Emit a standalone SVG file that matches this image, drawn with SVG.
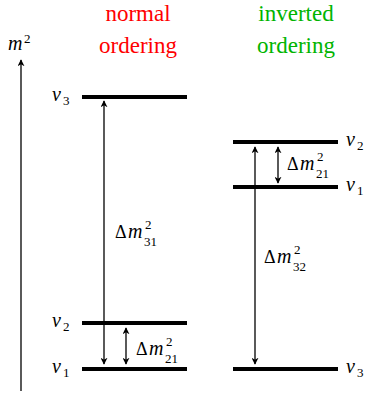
<svg xmlns="http://www.w3.org/2000/svg" width="366" height="394" viewBox="0 0 366 394">
<defs>
<marker id="ah" viewBox="0 0 10 10" refX="9" refY="5" markerWidth="7" markerHeight="7" markerUnits="userSpaceOnUse" orient="auto-start-reverse">
<path d="M0,0 L10,5 L0,10 L3,5 Z" fill="#000"/>
</marker>
</defs>
<g font-family="'Liberation Serif'">
<g id="axis">
<line stroke="#000" stroke-width="1.3" x1="21" y1="391" x2="21" y2="60" marker-end="url(#ah)"/>
<text font-family="'Liberation Serif'" font-size="20" font-style="italic" x="8" y="50">m</text><text font-family="'Liberation Serif'" font-size="13" x="24" y="43">2</text>
</g>
<g id="titles" font-size="23" text-anchor="middle">
<text font-family="'Liberation Serif'" fill="#ff0000" x="138" y="21">normal</text>
<text font-family="'Liberation Serif'" fill="#ff0000" x="138" y="53">ordering</text>
<text font-family="'Liberation Serif'" fill="#00b400" x="296" y="21">inverted</text>
<text font-family="'Liberation Serif'" fill="#00b400" x="296" y="53">ordering</text>
</g>
<g id="normal-nu3"><line stroke="#000" stroke-width="4" x1="82" y1="97" x2="187" y2="97"/><text font-family="'Liberation Serif'" font-size="20" font-style="italic" x="52" y="101">ν</text><text font-family="'Liberation Serif'" font-size="13" x="63" y="105">3</text></g>
<g id="normal-nu2"><line stroke="#000" stroke-width="4" x1="82" y1="323" x2="187" y2="323"/><text font-family="'Liberation Serif'" font-size="20" font-style="italic" x="52" y="327">ν</text><text font-family="'Liberation Serif'" font-size="13" x="63" y="331">2</text></g>
<g id="normal-nu1"><line stroke="#000" stroke-width="4" x1="82" y1="369" x2="187" y2="369"/><text font-family="'Liberation Serif'" font-size="20" font-style="italic" x="52" y="373">ν</text><text font-family="'Liberation Serif'" font-size="13" x="63" y="377">1</text></g>
<g id="inv-nu2"><line stroke="#000" stroke-width="4" x1="233" y1="142" x2="338" y2="142"/><text font-family="'Liberation Serif'" font-size="20" font-style="italic" x="346" y="146">ν</text><text font-family="'Liberation Serif'" font-size="13" x="357" y="150">2</text></g>
<g id="inv-nu1"><line stroke="#000" stroke-width="4" x1="233" y1="187" x2="338" y2="187"/><text font-family="'Liberation Serif'" font-size="20" font-style="italic" x="346" y="191">ν</text><text font-family="'Liberation Serif'" font-size="13" x="357" y="195">1</text></g>
<g id="inv-nu3"><line stroke="#000" stroke-width="4" x1="233" y1="369" x2="338" y2="369"/><text font-family="'Liberation Serif'" font-size="20" font-style="italic" x="346" y="373">ν</text><text font-family="'Liberation Serif'" font-size="13" x="357" y="377">3</text></g>
<g id="connectors" stroke="#000" stroke-width="1.3">
<line x1="104" y1="101" x2="104" y2="364" marker-start="url(#ah)" marker-end="url(#ah)"/>
<line x1="126" y1="328" x2="126" y2="364" marker-start="url(#ah)" marker-end="url(#ah)"/>
<line x1="255" y1="147" x2="255" y2="364" marker-start="url(#ah)" marker-end="url(#ah)"/>
<line x1="278" y1="147" x2="278" y2="183" marker-start="url(#ah)" marker-end="url(#ah)"/>
</g>
<g id="labels">
<text font-family="'Liberation Serif'" font-size="18" x="115" y="238">Δ</text><text font-family="'Liberation Serif'" font-size="20" font-style="italic" x="128" y="238">m</text>
<text font-family="'Liberation Serif'" font-size="13" x="145" y="229">2</text><text font-family="'Liberation Serif'" font-size="13" x="144" y="246">31</text>
<text font-family="'Liberation Serif'" font-size="18" x="136" y="355">Δ</text><text font-family="'Liberation Serif'" font-size="20" font-style="italic" x="149" y="355">m</text>
<text font-family="'Liberation Serif'" font-size="13" x="166" y="346">2</text><text font-family="'Liberation Serif'" font-size="13" x="165" y="363">21</text>
<text font-family="'Liberation Serif'" font-size="18" x="287" y="170">Δ</text><text font-family="'Liberation Serif'" font-size="20" font-style="italic" x="300" y="170">m</text>
<text font-family="'Liberation Serif'" font-size="13" x="317" y="161">2</text><text font-family="'Liberation Serif'" font-size="13" x="316" y="178">21</text>
<text font-family="'Liberation Serif'" font-size="18" x="264" y="263">Δ</text><text font-family="'Liberation Serif'" font-size="20" font-style="italic" x="277" y="263">m</text>
<text font-family="'Liberation Serif'" font-size="13" x="294" y="254">2</text><text font-family="'Liberation Serif'" font-size="13" x="293" y="271">32</text>
</g>
</g>
</svg>
